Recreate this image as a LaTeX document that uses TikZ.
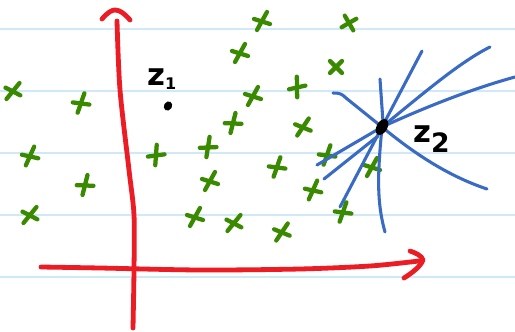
\documentclass[tikz,border=0pt]{standalone}
\usepackage{fontspec}
\setmainfont{DejaVu Sans}
\definecolor{rule}{HTML}{CFE9F8}
\definecolor{axisred}{HTML}{EC1C24}
\definecolor{penblue}{HTML}{3A6BC4}
\definecolor{pengreen}{HTML}{3A8A00}
\tikzset{
  ruling/.style={draw=rule, line width=1.4pt},
  axis/.style={draw=axisred, line width=3.6pt, line cap=round, line join=round},
  ray/.style={draw=penblue, line width=2.3pt, line cap=round, line join=round},
  gstroke/.style={draw=pengreen, line width=3.2pt, line cap=round},
  gx/.pic={\draw[gstroke] (-5,9) -- (5,-9); \draw[gstroke] (-8,-2) -- (8,3);},
  gxx/.pic={\draw[gstroke] (-6,-6) -- (6,6); \draw[gstroke] (-6,6) -- (6,-6);},
  handtext/.style={inner sep=0pt, anchor=base west, font=\bfseries}
}
\begin{document}
\begin{tikzpicture}[x=0.75pt, y=-0.75pt]
\fill[white] (0,0) rectangle (515,332);
\useasboundingbox (0,0) rectangle (515,332);
% ruled paper
\foreach \yy in {29,91,153,215,277} \draw[ruling] (0,\yy) -- (515,\yy);
% axes
\draw[axis] plot[smooth] coordinates {(117,21) (120,90) (129,170) (134,215) (134,270) (133,328)};
\draw[axis] (102,19) .. controls (108,12) and (112,10) .. (115,10) .. controls (120,10) and (125,14) .. (130,20);
\draw[axis] plot[smooth] coordinates {(41,267) (100,268) (200,270) (300,269) (370,266) (419,261)};
\draw[axis] (410,251) .. controls (416,253) and (422,256) .. (423,260) .. controls (421,266) and (412,273) .. (404,278);
% green crosses
\foreach \px/\py/\rt in {262/21/0, 240/53/0, 13/91/-10, 81/103/10, 253/96/0, 297/87/30,
  233/123/15, 303/127/-5, 30/156/5, 156/155/25, 208/147/20, 327/155/10, 85/185/15,
  210/181/0, 277/167/10, 372/167/0, 313/190/5, 30/215/-10, 195/217/0, 234/223/-10,
  282/232/-5, 343/212/10}
  \pic[rotate=\rt] at (\px,\py) {gx};
\pic at (336,67) {gxx};
\pic[rotate=-15] at (349,23) {gxx};
% z1
\node[handtext] (z1) at (147,85) {\fontsize{23}{23}\selectfont z\raisebox{-3.5pt}{\fontsize{12}{12}\selectfont 1}};
\fill[rotate around={-30:(168,106)}] (168,106) ellipse [x radius=3pt, y radius=3.6pt];
% rays through z2
\coordinate (c) at (382,127);
\draw[ray] (383,122) .. controls (382,100) .. (380,79);
\draw[ray] (c) -- (422,51);
\draw[ray] (c) .. controls (425,92) and (460,62) .. (490,47);
\draw[ray] (c) .. controls (430,105) and (475,88) .. (515,77);
\draw[ray] (333,93) .. controls (340,93) and (342,94) .. (346,98) -- (c);
\draw[ray] (317,165) -- (c);
\draw[ray] (324,179) -- (378,136);
\draw[ray] (340,207) -- (c);
\draw[ray] (c) .. controls (378,170) and (376,200) .. (385,232);
\draw[ray] (c) .. controls (410,150) and (445,175) .. (487,189);
\fill[rotate around={-30:(382,127)}] (382,127) ellipse [x radius=4pt, y radius=6.5pt];
\node[handtext] (z2) at (413,142) {\fontsize{23}{23}\selectfont z\raisebox{-7.5pt}{\fontsize{20}{20}\selectfont 2}};
\end{tikzpicture}
\end{document}
